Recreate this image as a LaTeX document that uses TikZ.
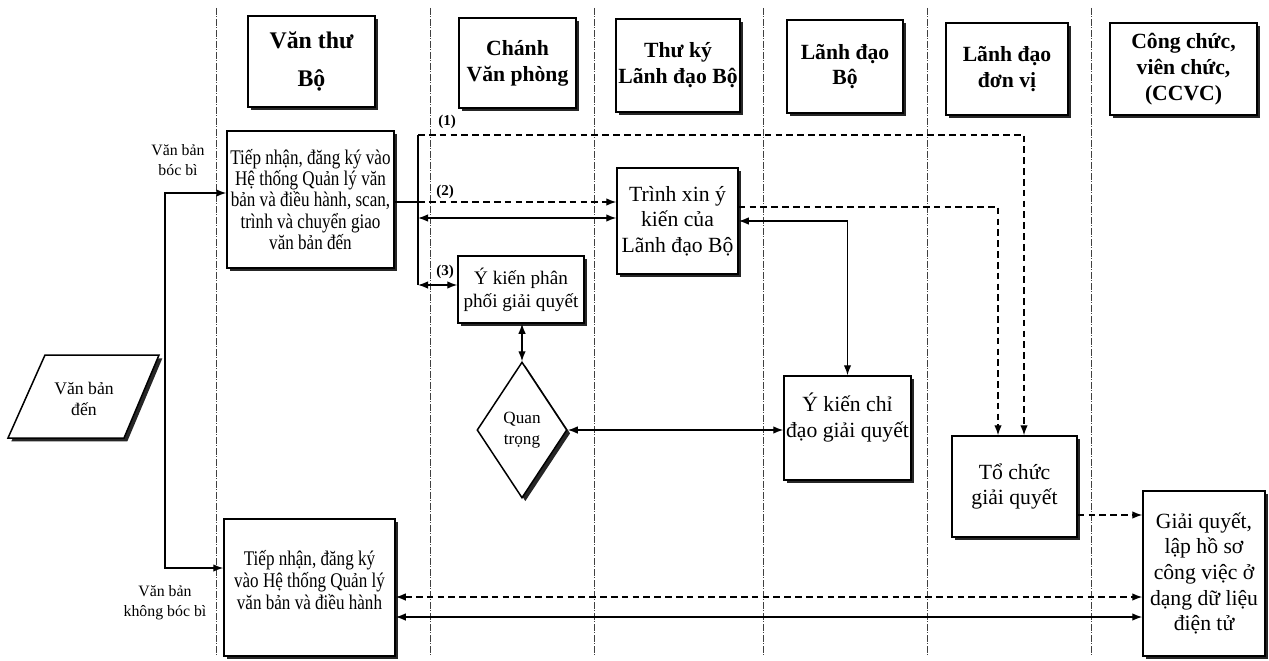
\documentclass[tikz,border=0pt]{standalone}
\usepackage{fontspec}
\setmainfont{Liberation Serif}
\newfontfamily\narrowserif{Liberation Serif}[FakeStretch=0.82]
\usetikzlibrary{arrows.meta,shapes.geometric,shadows}

\tikzset{
  >={Latex[length=6pt,width=4.5pt]},
  lanesep/.style={very thin, black!75, dash pattern=on 4pt off 1pt on 0.6pt off 1pt},
  shadebox/.style={draw, line width=0.9pt, fill=white,
    drop shadow={shadow xshift=2pt, shadow yshift=-2pt, fill=black, opacity=0.85}},
  hdrbox/.style={shadebox, align=center, inner sep=1pt,
    font=\bfseries\fontsize{13}{15.5}\selectfont},
  taskbox/.style={shadebox, align=center, inner sep=1pt,
    font=\fontsize{13}{15.4}\selectfont},
  sidenote/.style={align=center, font=\fontsize{9.5}{12}\selectfont},
  numtag/.style={font=\bfseries\fontsize{9}{10}\selectfont},
  flowline/.style={line width=0.8pt},
  dashflow/.style={line width=0.8pt, dash pattern=on 4pt off 2.5pt},
}

\begin{document}
\begin{tikzpicture}[x=0.6pt, y=-0.6pt]

  \useasboundingbox (0,0) rectangle (1269,661);

  % lanes
  \foreach \x in {216,430,594,763,927,1091}
    \draw[lanesep] (\x,8) -- (\x,656);

  % headers
  \node[hdrbox, minimum width=76.2pt, minimum height=54.6pt,
        font=\bfseries\fontsize{14.3}{23}\selectfont] (hVT) at (311.5,61.5) {Văn thư\\Bộ};
  \node[hdrbox, minimum width=70.2pt, minimum height=54pt] (hCVP) at (517.5,63) {Chánh\\Văn phòng};
  \node[hdrbox, minimum width=74.4pt, minimum height=55.8pt] (hTK) at (678,65.5) {Thư ký\\Lãnh đạo Bộ};
  \node[hdrbox, minimum width=69.6pt, minimum height=55.8pt] (hLDB) at (845,66.5) {Lãnh đạo\\Bộ};
  \node[hdrbox, minimum width=73.2pt, minimum height=55.2pt] (hLDDV) at (1007,69) {Lãnh đạo\\đơn vị};
  \node[hdrbox, minimum width=88.2pt, minimum height=55.2pt] (hCC) at (1183.5,69) {Công chức,\\viên chức,\\(CCVC)};

  % incoming document
  \draw[line width=0.9pt, fill=white,
        drop shadow={shadow xshift=2pt, shadow yshift=-2pt, fill=black, opacity=0.85}]
    (45,355) -- (159,355) -- (124,438) -- (8,438) -- cycle;
  \node[align=center, font=\fontsize{10.6}{13}\selectfont] (vbd) at (84,399) {Văn bản\\đến};

  % tasks
  \node[taskbox, minimum width=100.2pt, minimum height=82.2pt,
        font=\narrowserif\fontsize{12.5}{12.8}\selectfont] (tn1) at (310.5,199.5)
    {Tiếp nhận, đăng ký vào\\Hệ thống Quản lý văn\\bản và điều hành, scan,\\trình và chuyển giao\\văn bản đến};
  \node[taskbox, minimum width=102.6pt, minimum height=82.2pt,
        font=\narrowserif\fontsize{12.5}{13.2}\selectfont] (tn2) at (309.5,587.5)
    {Tiếp nhận, đăng ký\\vào Hệ thống Quản lý\\văn bản và điều hành\\[-4pt]\mbox{}};
  \node[taskbox, minimum width=72.6pt, minimum height=63.6pt] (tx) at (677.5,221) {Trình xin ý\\kiến của\\Lãnh đạo Bộ};
  \node[taskbox, minimum width=75.6pt, minimum height=40.2pt,
        font=\fontsize{11.5}{13.8}\selectfont] (pp) at (521,289.5) {Ý kiến phân\\phối giải quyết};
  \node[shadebox, diamond, aspect=0.66, inner sep=0pt, minimum width=54pt, minimum height=81.6pt,
        align=center, font=\fontsize{10.3}{13}\selectfont] (qt) at (522,430) {Quan\\trọng};
  \node[taskbox, minimum width=76.2pt, minimum height=62.4pt] (cd) at (847.5,428) {Ý kiến chỉ\\đạo giải quyết\\\mbox{}};
  \node[taskbox, minimum width=75pt, minimum height=60.6pt] (tc) at (1014.5,486.5) {Tổ chức\\giải quyết};
  \node[taskbox, minimum width=73.2pt, minimum height=99pt] (gq) at (1204,573.5)
    {Giải quyết,\\lập hồ sơ\\công việc ở\\dạng dữ liệu\\điện tử};

  % split of incoming documents
  \coordinate (fk1) at (165,193);
  \coordinate (fk2) at (165,568);
  \draw[flowline, <->] (tn1.west |- fk1) -- (fk1) -- (fk2) -- (tn2.west |- fk2);
  \node[sidenote] (lblb) at (178,160) {Văn bản\\bóc bì};
  \node[sidenote] (lblk) at (165,603) {Văn bản\\không bóc bì};

  % trunk
  \coordinate (tr0) at (418,135);
  \coordinate (tr1) at (418,202);
  \coordinate (tr2) at (418,218);
  \coordinate (tr3) at (418,285);
  \draw[flowline] (tn1.east |- tr1) -- (tr1);
  \draw[flowline] (tr0) -- (tr3);

  \coordinate (c1) at (1024,135);
  \draw[dashflow, ->] (tr0) -- (c1) -- (tc.north -| c1);
  \draw[dashflow, ->] (tr1) -- (tx.west |- tr1);
  \draw[flowline, <->] (tr2) -- (tx.west |- tr2);
  \draw[flowline, <->] (tr3) -- (pp.west |- tr3);
  \node[numtag] (n1) at (447,122) {(1)};
  \node[numtag] (n2) at (445,192) {(2)};
  \node[numtag] (n3) at (445,272) {(3)};

  \coordinate (c2) at (998,207);
  \draw[dashflow, ->] (tx.east |- c2) -- (c2) -- (tc.north -| c2);
  \draw[flowline, <->] (tx.east) -| (cd.north);

  \draw[flowline, <->] (pp.south -| qt.north) -- (qt.north);
  \draw[flowline, <->] (qt.east) -- (cd.west |- qt.east);

  \draw[dashflow, ->] (tc.east |- 0,515) -- (gq.west |- 0,515);
  \draw[dashflow, <->] (tn2.east |- 0,597) -- (gq.west |- 0,597);
  \draw[flowline, <->] (tn2.east |- 0,617) -- (gq.west |- 0,617);

\end{tikzpicture}
\end{document}
